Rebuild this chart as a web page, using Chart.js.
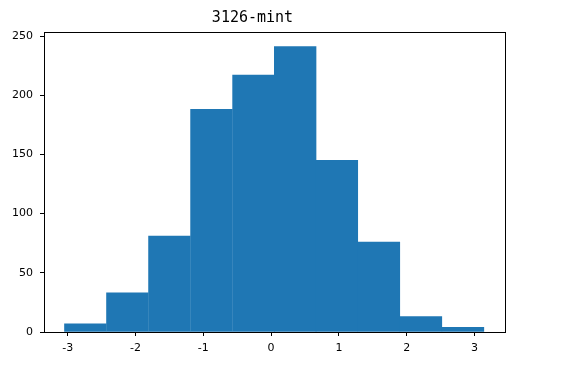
<!DOCTYPE html>
<html>
<head>
<meta charset="utf-8">
<script src="https://cdn.jsdelivr.net/npm/chart.js@4"></script>
<style>
  html, body { margin: 0; padding: 0; background: #fff; }
  #wrap { width: 568px; height: 382px; }
</style>
</head>
<body>
<div id="wrap"><canvas id="chart" width="568" height="382"></canvas></div>
<script>
// histogram bins
const binEdges = [-3.05, -2.43, -1.81, -1.19, -0.57, 0.05, 0.66, 1.28, 1.90, 2.52, 3.14];
const counts = [7, 33, 81, 188, 217, 241, 145, 76, 13, 4];
const xTicks = [-3, -2, -1, 0, 1, 2, 3];
const yTicks = [0, 50, 100, 150, 200, 250];
const title = '3126-mint';

const points = counts.map((c, i) => ({ x: (binEdges[i] + binEdges[i + 1]) / 2, y: c }));

// draws the full box round the plot, like matplotlib spines
const boxPlugin = {
  id: 'box',
  afterDraw(chart) {
    const { ctx, chartArea: a } = chart;
    ctx.save();
    ctx.strokeStyle = '#000';
    ctx.lineWidth = 1;
    ctx.strokeRect(Math.round(a.left) + 0.5, Math.round(a.top) + 0.5,
      Math.round(a.right - a.left), Math.round(a.bottom - a.top));
    ctx.restore();
  }
};

const font = { family: 'DejaVu Sans', size: 11 };

new Chart(document.getElementById('chart'), {
  type: 'bar',
  data: {
    datasets: [{
      data: points,
      backgroundColor: '#1f77b4',
      borderWidth: 0,
      barPercentage: 1,
      categoryPercentage: 1
    }]
  },
  options: {
    responsive: false,
    animation: false,
    layout: { padding: { left: 0, right: 63, top: 0, bottom: 0 } },
    plugins: {
      legend: { display: false },
      tooltip: { enabled: false },
      title: {
        display: true,
        text: title,
        color: '#000',
        font: { family: 'DejaVu Sans Mono', size: 15, weight: 'normal', lineHeight: 1.2 },
        padding: { top: 9, bottom: 5 }
      }
    },
    scales: {
      x: {
        type: 'linear',
        min: -3.35,
        max: 3.45,
        offset: false,
        afterBuildTicks: s => { s.ticks = xTicks.map(v => ({ value: v })); },
        afterFit: s => { s.height = 50; },
        ticks: { color: '#000', font, padding: 6, maxRotation: 0 },
        grid: { display: true, offset: false, drawOnChartArea: false, drawTicks: true, tickLength: 4, color: '#000' },
        border: { display: true, color: '#000' }
      },
      y: {
        min: 0,
        max: 253.4,
        afterBuildTicks: s => { s.ticks = yTicks.map(v => ({ value: v })); },
        afterFit: s => { s.width = 44; },
        ticks: { color: '#000', font, padding: 7 },
        grid: { display: true, drawOnChartArea: false, drawTicks: true, tickLength: 4, color: '#000' },
        border: { display: true, color: '#000' }
      }
    }
  },
  plugins: [boxPlugin]
});
</script>
</body>
</html>
